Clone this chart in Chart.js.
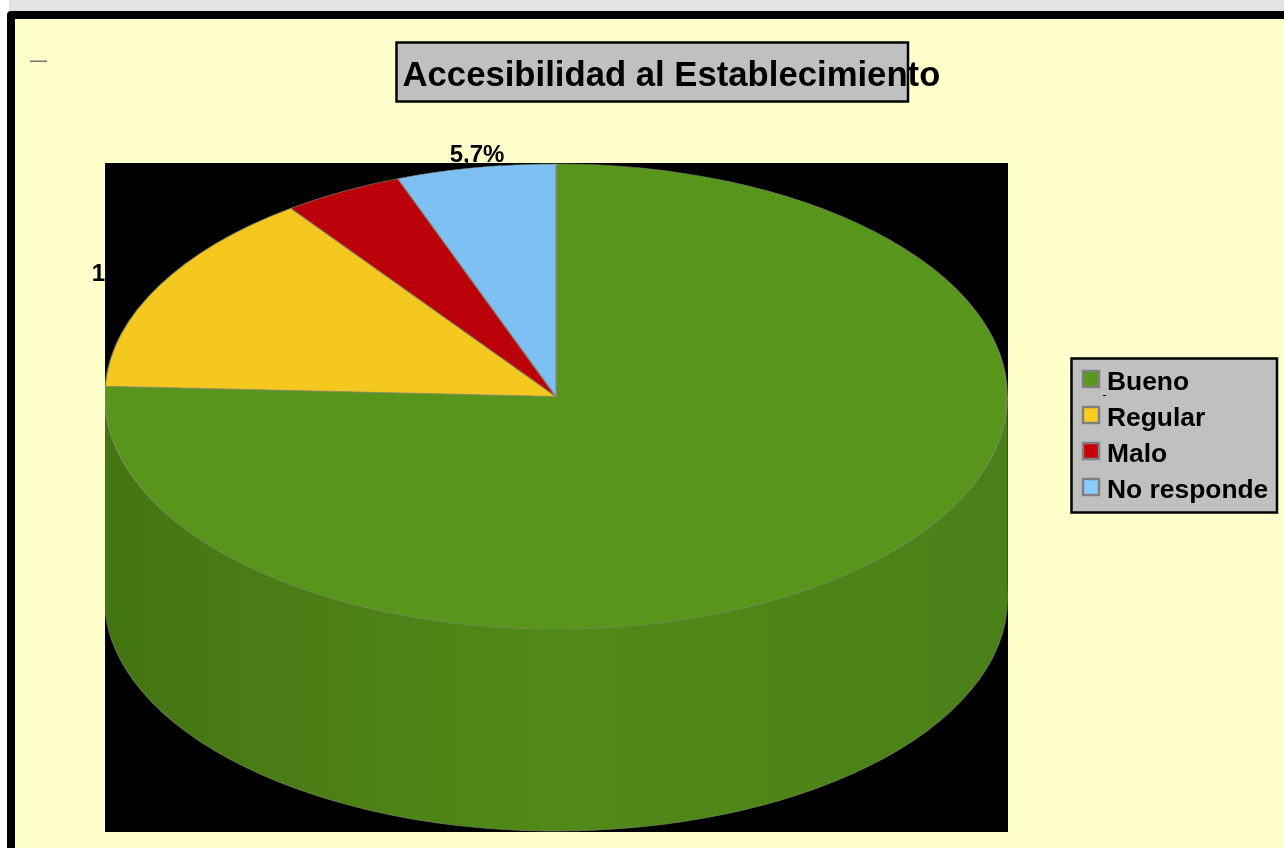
<!DOCTYPE html>
<html lang="es">

<head>
    <meta charset="UTF-8">
    <title>Accesibilidad al Establecimiento</title>
    <script src="https://cdn.jsdelivr.net/npm/chart.js"></script>
    <style>
        html, body { margin: 0; padding: 0; background: #fff; }
        canvas { display: block; }
    </style>
</head>

<body>
    <canvas id="pieChart" width="1284" height="848"></canvas>

    <script>
        const chartTitle = 'Accesibilidad al Establecimiento';
        const categories = ['Bueno', 'Regular', 'Malo', 'No responde'];
        const percentValues = [75.7, 14.3, 4.3, 5.7];
        const labelledSlices = ['Regular', 'No responde']; // the others are lost on the black plot
        const sliceColors = ['#58961b', '#f4c81e', '#bb0009', '#7fc0f4'];
        const legendColors = ['#58981a', '#ffcc22', '#c80008', '#88ccff'];

        // ellipse of the pie top on the page, and the black plot rectangle around the pie
        const pie = { cx: 556, cy: 396.5, rx: 452, ry: 233, depth: 202 };
        const plot = { left: 105, top: 163, width: 903, height: 669 };
        const font = 'Liberation Sans, Arial, sans-serif';

        function frameText(ctx, text, x, y, size, align) {
            ctx.font = 'bold ' + size + 'px ' + font;
            ctx.textAlign = align || 'left';
            ctx.textBaseline = 'alphabetic';
            ctx.fillStyle = '#000';
            ctx.fillText(text, x, y);
        }

        const pageBackground = {
            id: 'pageBackground',
            beforeDraw(chart) {
                const ctx = chart.ctx;
                ctx.save();
                ctx.fillStyle = '#fff';
                ctx.fillRect(0, 0, 1284, 848);
                ctx.fillStyle = '#e4e4e4';
                ctx.fillRect(9, 0, 1275, 11);
                ctx.fillStyle = '#ffffcc';
                ctx.fillRect(15, 19, 1269, 829);
                ctx.fillStyle = '#000';
                ctx.beginPath();
                ctx.roundRect(7, 11, 1277, 837, [4, 0, 0, 0]);
                ctx.rect(15, 19, 1269, 829);
                ctx.fill('evenodd');
                ctx.fillStyle = '#77776a';
                ctx.fillRect(30, 60.5, 17, 1.5);

                // data labels first, the black plot covers part of them like in the original
                const arcs = chart.getDatasetMeta(0).data;
                labelledSlices.forEach(name => {
                    const i = categories.indexOf(name);
                    const mid = (arcs[i].startAngle + arcs[i].endAngle) / 2;
                    const x = pie.cx + Math.cos(mid) * pie.rx;
                    const y = pie.cy + Math.sin(mid) * pie.ry;
                    const text = String(percentValues[i]).replace('.', ',') + '%';
                    const centred = Math.abs(Math.cos(mid)) < 0.5;
                    frameText(ctx, text, centred ? x + 1.5 : x + 2, y - 5, 24, centred ? 'center' : 'right');
                });

                ctx.fillStyle = '#000';
                ctx.fillRect(plot.left, plot.top, plot.width, plot.height);
                ctx.restore();
            }
        };

        const pie3d = {
            id: 'pie3d',
            beforeDatasetsDraw(chart) {
                const ctx = chart.ctx;
                const front = chart.getDatasetMeta(0).data[0];

                ctx.save();
                ctx.beginPath();
                ctx.rect(plot.left, plot.top, plot.width, plot.height);
                ctx.clip();
                ctx.translate(pie.cx, pie.cy);
                ctx.scale(pie.rx / pie.ry, 1);
                ctx.translate(-pie.cx, -pie.cy);

                // side wall: the green slice stacked downwards, only its front shows
                const k = pie.ry / pie.rx;
                const wall = ctx.createLinearGradient(pie.cx - pie.rx * k, 0, pie.cx + pie.rx * k, 0);
                wall.addColorStop(0, '#427510');
                wall.addColorStop(0.2, '#4a7d15');
                wall.addColorStop(0.5, '#508a18');
                wall.addColorStop(0.8, '#4d8418');
                wall.addColorStop(1, '#4a8018');

                const piece = Object.create(front);
                piece.options = Object.assign({}, front.options, { backgroundColor: wall, borderWidth: 0 });
                for (let d = pie.depth; d > 0; d--) {
                    piece.y = front.y + d;
                    piece.options.borderWidth = d === pie.depth ? 0.8 : 0;
                    piece.draw(ctx);
                }
            },
            afterDatasetsDraw(chart) {
                chart.ctx.restore();
            }
        };

        const titleAndLegend = {
            id: 'titleAndLegend',
            afterDraw(chart) {
                const ctx = chart.ctx;
                ctx.save();

                // title box, the text runs past its right edge like in the original
                ctx.fillStyle = '#c0c0c0';
                ctx.fillRect(396.5, 42.5, 511.5, 59);
                ctx.strokeStyle = '#000';
                ctx.lineWidth = 2.5;
                ctx.strokeRect(396.5, 42.5, 511.5, 59);
                frameText(ctx, chartTitle, 402.5, 86, 34.7);

                ctx.fillStyle = '#c0c0c0';
                ctx.fillRect(1071.5, 358.5, 205.5, 154);
                ctx.strokeRect(1071.5, 358.5, 205.5, 154);

                categories.forEach((name, i) => {
                    const y = 371 + i * 36;
                    ctx.fillStyle = legendColors[i];
                    ctx.fillRect(1083, y, 16, 16);
                    ctx.strokeStyle = '#808080';
                    ctx.lineWidth = 2.5;
                    ctx.strokeRect(1083, y, 16, 16);
                    frameText(ctx, name, 1107, y + 19, 26.4);
                });
                ctx.fillStyle = '#000';
                ctx.fillRect(1103, 395, 3, 1);
                ctx.restore();
            }
        };

        new Chart(document.getElementById('pieChart'), {
            type: 'pie',
            data: {
                labels: categories,
                datasets: [{
                    data: percentValues,
                    backgroundColor: sliceColors,
                    borderColor: 'rgba(128, 138, 112, 0.7)',
                    borderWidth: 0.8,
                    clip: false
                }]
            },
            options: {
                responsive: false,
                animation: false,
                // square chart area the height of the ellipse, pie3d stretches it sideways
                layout: {
                    padding: {
                        left: pie.cx - pie.ry,
                        right: 1284 - pie.cx - pie.ry,
                        top: pie.cy - pie.ry,
                        bottom: 848 - pie.cy - pie.ry
                    }
                },
                plugins: {
                    legend: { display: false },
                    title: { display: false },
                    tooltip: { enabled: false }
                }
            },
            plugins: [pageBackground, pie3d, titleAndLegend]
        });
    </script>

</body>

</html>
